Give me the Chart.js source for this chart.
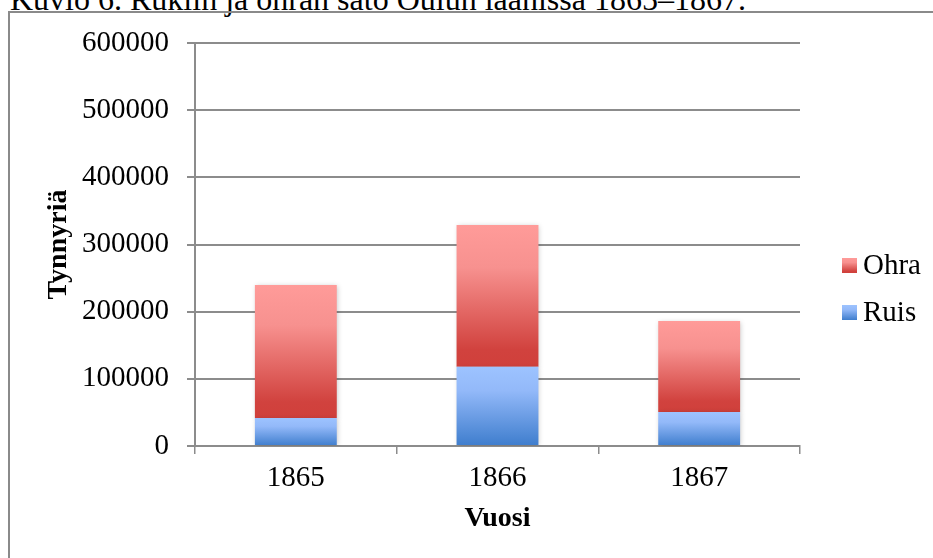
<!DOCTYPE html>
<html>
<head>
<meta charset="utf-8">
<script src="https://cdn.jsdelivr.net/npm/chart.js@4.4.1/dist/chart.umd.min.js"></script>
<style>
  html, body { margin: 0; padding: 0; background: #fff; }
  body { width: 933px; height: 558px; position: relative; overflow: hidden; }
  #title { position: absolute; left: 10px; top: -17px; font: 32px/32px "Liberation Serif", serif; color: #000; white-space: nowrap; }
  #frame { position: absolute; left: 8px; top: 11px; width: 1000px; height: 600px; border-left: 2px solid #8a8a8a; border-top: 2px solid #8a8a8a; }
  #wrap { position: absolute; left: 0; top: 0; width: 933px; height: 558px; }
</style>
</head>
<body>
<div id="title">Kuvio 6. Rukiin ja ohran sato Oulun läänissä 1865–1867.</div>
<div id="frame"></div>
<div id="wrap"><canvas id="c"></canvas></div>
<script>
const vuodet = ["1865", "1866", "1867"];
const ruis = [41700, 118000, 50600];
const ohra = [197900, 210900, 135400];
const yTicks = [0, 100000, 200000, 300000, 400000, 500000, 600000];

const serif = "'Liberation Serif', serif";
const gridColor = "#8c8c8c";

const ruisStops = [[0, "#9dc3ff"], [0.3, "#93b9f9"], [1, "#3e7dcd"]];
const ohraStops = [[0, "#ff9b99"], [0.3, "#f7918f"], [0.88, "#d1423e"], [1, "#d0403b"]];

function makeGradient(c, top, bottom, stops) {
  const g = c.createLinearGradient(0, top, 0, bottom);
  stops.forEach(s => g.addColorStop(s[0], s[1]));
  return g;
}

// gradient for one stacked segment, from its own top to its bottom
function segmentGradient(ctx, stops) {
  const chart = ctx.chart;
  if (!chart.chartArea || ctx.type !== "data") return stops[0][1];
  const y = chart.scales.y;
  let base = 0;
  for (let i = 0; i < ctx.datasetIndex; i++) base += chart.data.datasets[i].data[ctx.dataIndex];
  return makeGradient(chart.ctx, y.getPixelForValue(base + ctx.raw), y.getPixelForValue(base), stops);
}

const shadow = {
  id: "shadow",
  beforeDatasetsDraw(chart) {
    const c = chart.ctx;
    c.save();
    c.shadowColor = "rgba(0,0,0,0.22)";
    c.shadowBlur = 5;
    c.shadowOffsetX = 1;
    c.shadowOffsetY = 1;
  },
  afterDatasetsDraw(chart) { chart.ctx.restore(); }
};

// legend on the right: Ohra above Ruis
const sideLegend = {
  id: "sideLegend",
  afterDraw(chart) {
    const c = chart.ctx;
    const a = chart.chartArea;
    const x = a.right + 42;
    let y = a.top + 215;
    const sets = chart.data.datasets.slice().reverse();
    c.save();
    c.font = "29px " + serif;
    c.fillStyle = "#000";
    c.textBaseline = "middle";
    sets.forEach(d => {
      c.fillStyle = makeGradient(c, y, y + 15, d.stops);
      c.fillRect(x, y, 15, 15);
      c.fillStyle = "#000";
      c.fillText(d.label, x + 21, y + 8);
      y += 47;
    });
    c.restore();
  }
};

new Chart(document.getElementById("c"), {
  type: "bar",
  data: {
    labels: vuodet,
    datasets: [
      { label: "Ruis", data: ruis, stops: ruisStops, backgroundColor: ctx => segmentGradient(ctx, ruisStops) },
      { label: "Ohra", data: ohra, stops: ohraStops, backgroundColor: ctx => segmentGradient(ctx, ohraStops) }
    ]
  },
  options: {
    responsive: true,
    maintainAspectRatio: false,
    animation: false,
    layout: { padding: { top: 43, right: 133, bottom: 0, left: 0 } },
    datasets: { bar: { barPercentage: 0.406, categoryPercentage: 1 } },
    plugins: {
      tooltip: { enabled: false },
      legend: { display: false }
    },
    scales: {
      x: {
        stacked: true,
        offset: true,
        grid: { offset: true, drawOnChartArea: false, color: gridColor, lineWidth: 1.5, tickLength: 8 },
        border: { color: gridColor, width: 2 },
        ticks: { color: "#000", font: { family: serif, size: 29 }, padding: 7 },
        title: { display: true, text: "Vuosi", color: "#000", font: { family: serif, size: 28, weight: "bold" }, padding: { top: 0, bottom: 22 } },
        afterFit(s) { s.height = 112; }
      },
      y: {
        stacked: true,
        min: 0, max: 600000,
        afterBuildTicks(s) { s.ticks = yTicks.map(v => ({ value: v })); },
        grid: { color: gridColor, lineWidth: 2, tickLength: 8 },
        border: { color: gridColor, width: 2 },
        ticks: { color: "#000", font: { family: serif, size: 29 }, padding: 18, callback: v => String(v) },
        title: { display: true, text: "Tynnyriä", color: "#000", font: { family: serif, size: 28, weight: "bold" }, padding: { top: 42, bottom: 0 } },
        afterFit(s) { s.width = 195; }
      }
    }
  },
  plugins: [shadow, sideLegend]
});
</script>
</body>
</html>
